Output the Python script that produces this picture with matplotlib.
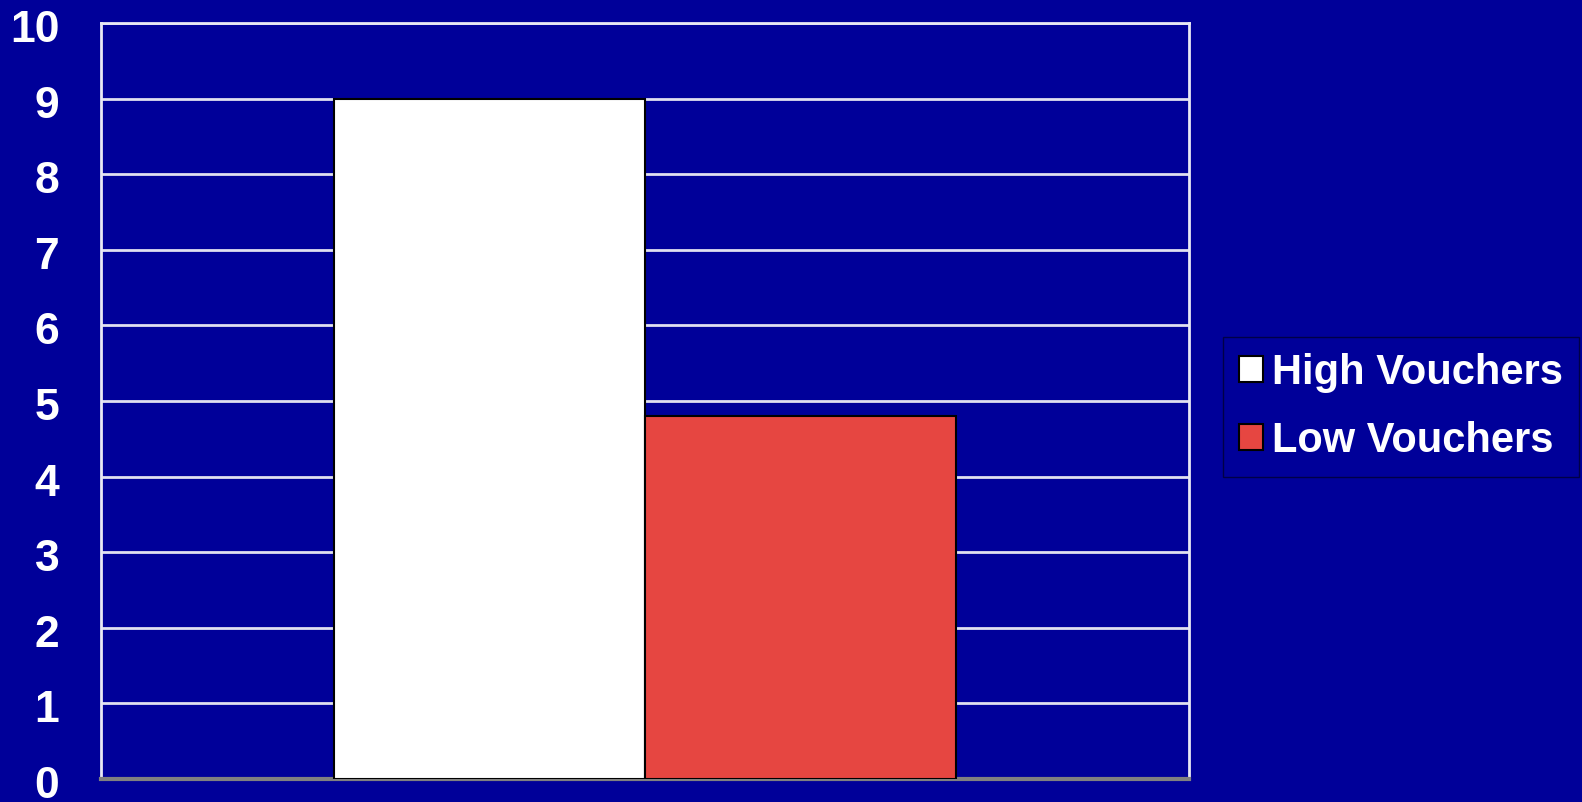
import matplotlib.pyplot as plt
import matplotlib.transforms as mtransforms
import numpy as np
from matplotlib.patches import Patch

# Data
series = ['High Vouchers', 'Low Vouchers']
values = [9.0, 4.8]
bar_colors = ['#FFFFFF', '#E64641']
y_ticks = list(range(0, 11))

NAVY = '#000099'

plt.rcParams['font.family'] = ['Liberation Sans', 'DejaVu Sans']
plt.rcParams['font.weight'] = 'bold'

fig = plt.figure(figsize=(15.82, 8.02), dpi=100, facecolor=NAVY)
# plot area in pixels: left 101, right 1189, top 23, bottom 779
ax = fig.add_axes([101 / 1582, 1 - 779 / 802, (1189 - 101) / 1582, (779 - 23) / 802])
ax.set_facecolor(NAVY)

bar_w = 0.286
x = np.array([-0.5, 0.5]) * bar_w
for xi, v, c in zip(x, values, bar_colors):
    ax.bar(xi, v, width=bar_w, color=c, edgecolor='black', linewidth=1.5, zorder=3)

ax.set_xlim(-0.5, 0.5)
ax.set_ylim(0, 10)
ax.set_yticks(y_ticks)
ax.set_yticklabels([str(t) for t in y_ticks], fontsize=32, fontweight='bold', color='white')
ax.set_xticks([])
ax.tick_params(axis='y', length=0, pad=30)
ax.grid(axis='y', color='#E0E0F0', linewidth=2, zorder=1)

# labels sit a few pixels below their gridlines in the original
shift = mtransforms.ScaledTranslation(0, -3 / 100, fig.dpi_scale_trans)
for lbl in ax.get_yticklabels():
    lbl.set_transform(lbl.get_transform() + shift)

for side in ['left', 'right', 'top']:
    ax.spines[side].set_color('#E8E8F4')
    ax.spines[side].set_linewidth(2)
ax.spines['bottom'].set_color('#808080')
ax.spines['bottom'].set_linewidth(3)

handles = [Patch(facecolor=c, edgecolor='black', linewidth=1.5) for c in bar_colors]
leg = fig.legend(handles, series, loc='center left',
                 bbox_to_anchor=(1223 / 1582, 1 - 407 / 802),
                 fontsize=30, frameon=True, fancybox=False,
                 handlelength=0.58, handleheight=0.58, handletextpad=0.22,
                 labelspacing=0.68, borderpad=0.38, borderaxespad=0)
frame = leg.get_frame()
frame.set_facecolor(NAVY)
frame.set_edgecolor('#000033')
frame.set_linewidth(1)
for t in leg.get_texts():
    t.set_color('white')
    t.set_fontweight('bold')

fig.savefig('out.png', dpi=100, facecolor=NAVY)
